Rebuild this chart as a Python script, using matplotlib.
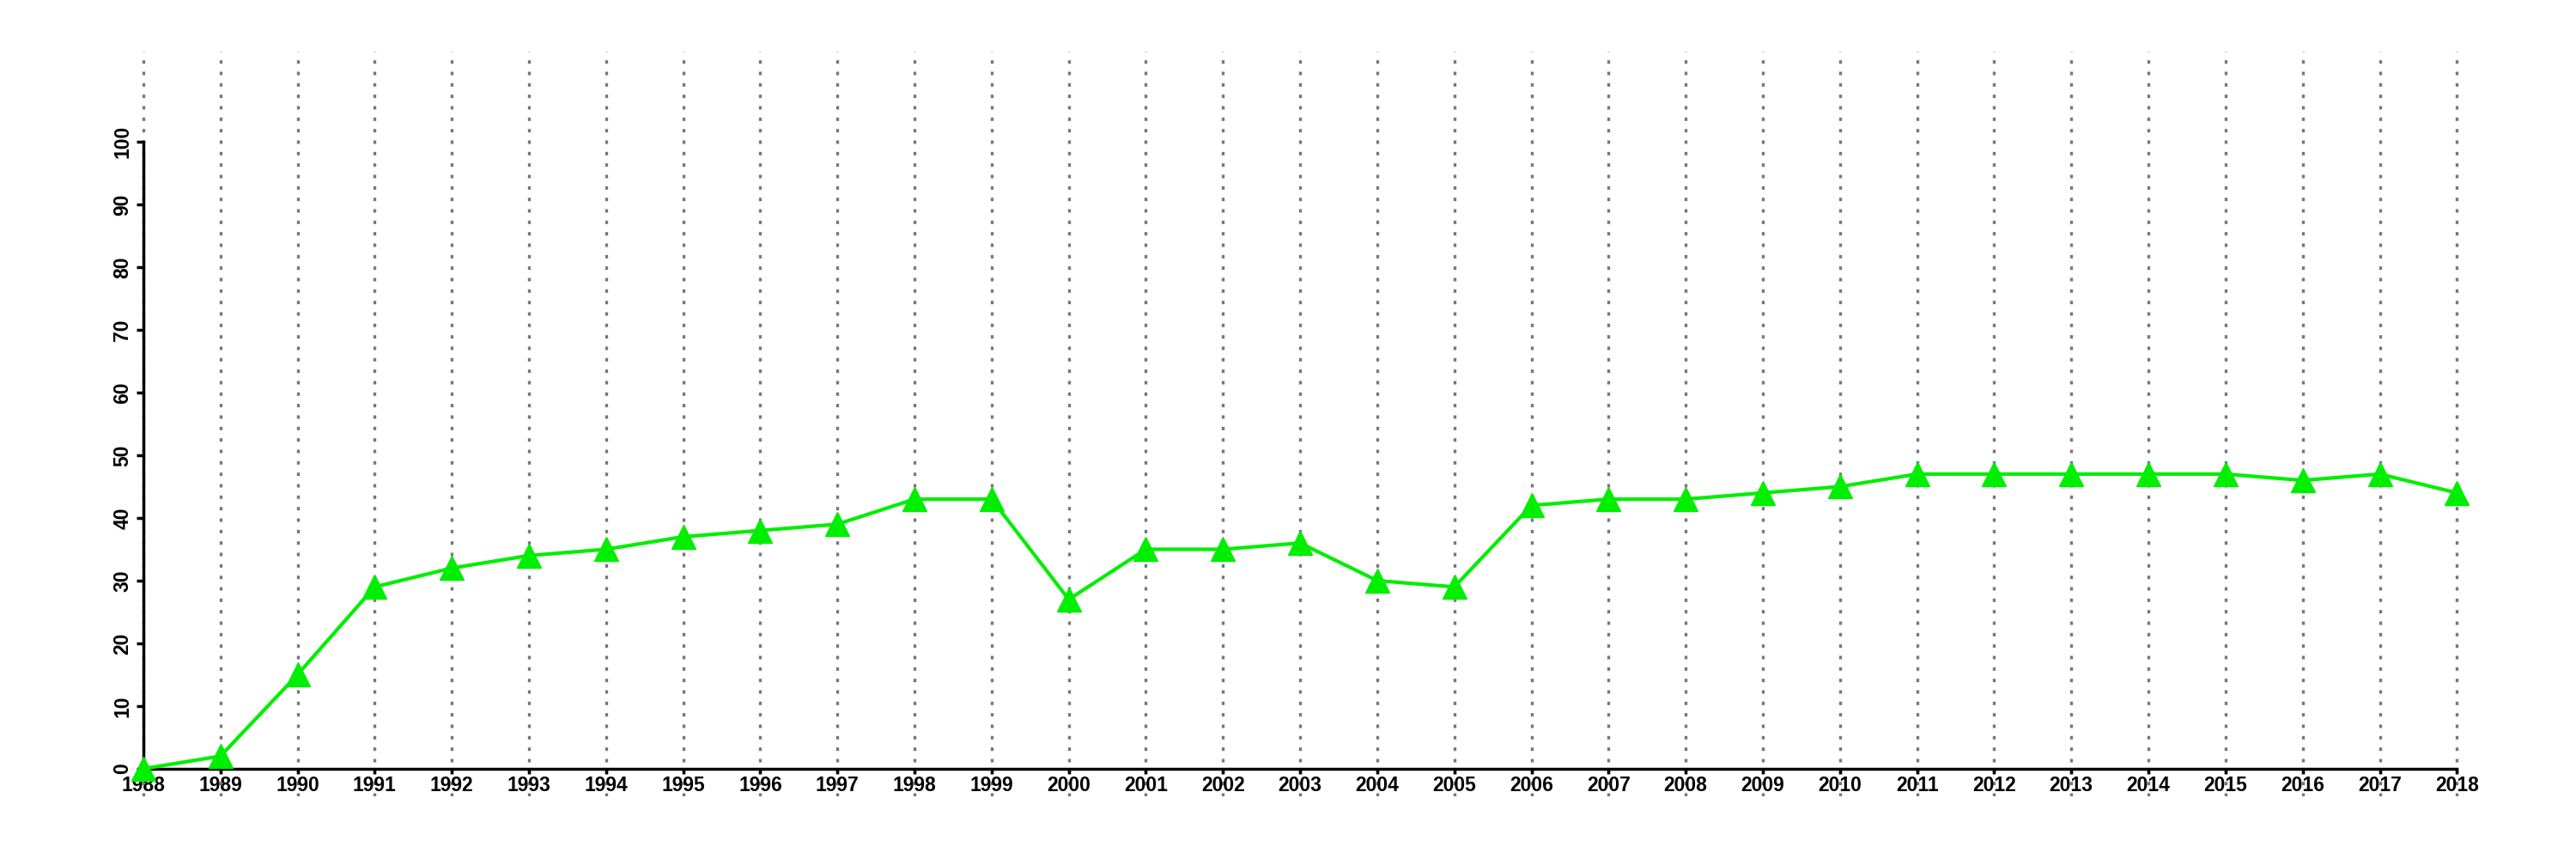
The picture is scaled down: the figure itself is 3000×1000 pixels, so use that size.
import matplotlib
matplotlib.use('Agg')
import matplotlib.pyplot as plt

years = list(range(1988, 2019))
values = [0, 2, 15, 29, 32, 34, 35, 37, 38, 39, 43, 43, 27, 35, 35, 36, 30, 29,
          42, 43, 43, 44, 45, 47, 47, 47, 47, 47, 46, 47, 44]
y_ticks = list(range(0, 101, 10))

plt.rcParams['font.family'] = ['Liberation Sans', 'DejaVu Sans']
plt.rcParams['font.weight'] = 'bold'

fig = plt.figure(figsize=(30, 10), dpi=100)
ax = fig.add_axes([0.0197, 0.073, 0.970, 0.867])

ax.set_xlim(1986.8, 2019.2)
ax.set_ylim(-4.4, 114.4)

# vertical dotted grid at every year
for yr in years:
    ax.axvline(yr, color='#777777', linestyle=(0, (1.2, 2.8)), linewidth=2.4, zorder=1)

ax.plot(years, values, color='#00ee00', linewidth=3, marker='^',
        markersize=20, markeredgecolor='#00ee00', zorder=3, clip_on=False)

for s in ['top', 'right']:
    ax.spines[s].set_visible(False)
ax.spines['left'].set_position(('data', 1988))
ax.spines['bottom'].set_position(('data', 0))
ax.spines['left'].set_bounds(0, 100)
ax.spines['bottom'].set_bounds(1988, 2018)
ax.spines['left'].set_linewidth(2.5)
ax.spines['bottom'].set_linewidth(2.5)

ax.set_xticks(years)
ax.set_xticklabels([str(y) for y in years], fontsize=16.5, fontweight='bold')
ax.set_yticks(y_ticks)
ax.set_yticklabels([str(v) for v in y_ticks], fontsize=16.5, fontweight='bold',
                   rotation=90, va='center')
ax.tick_params(axis='x', length=4.5, width=2.5, pad=1)
ax.tick_params(axis='y', length=6, width=2.5, pad=3)

fig.savefig('out.png', dpi=100)
